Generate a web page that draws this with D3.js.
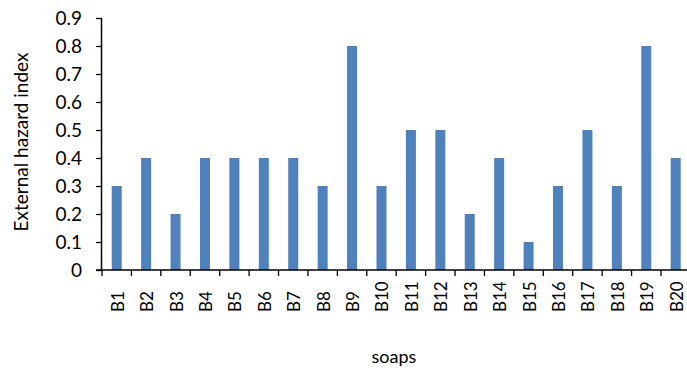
<!DOCTYPE html>
<html>
<head>
<meta charset="utf-8">
<script src="https://cdn.jsdelivr.net/npm/d3@7/dist/d3.min.js"></script>
<style>
  html, body { margin: 0; padding: 0; background: #fff; }
  svg { display: block; font-family: Lato, "Open Sans", sans-serif; }
</style>
</head>
<body>
<svg id="chart" width="687" height="370"></svg>
<script>
const categories = ["B1","B2","B3","B4","B5","B6","B7","B8","B9","B10",
                    "B11","B12","B13","B14","B15","B16","B17","B18","B19","B20"];
const hazardIndex = [0.3,0.4,0.2,0.4,0.4,0.4,0.4,0.3,0.8,0.3,
                     0.5,0.5,0.2,0.4,0.1,0.3,0.5,0.3,0.8,0.4];
const yTicks = [0,0.1,0.2,0.3,0.4,0.5,0.6,0.7,0.8,0.9];

const svg = d3.select("#chart");
// plot area runs slightly past the right edge of the canvas
const plotLeft = 102, plotRight = 690.4, plotTop = 18, plotBottom = 270;

const x = d3.scaleBand().domain(categories).range([plotLeft, plotRight]).paddingInner(0.66).paddingOuter(0.33);
const xb = d3.scaleBand().domain(categories).range([plotLeft, plotRight]);
const y = d3.scaleLinear().domain([0, 0.9]).range([plotBottom, plotTop]);

// bars
svg.append("g").selectAll("rect").data(categories).join("rect")
  .attr("x", d => x(d))
  .attr("width", x.bandwidth())
  .attr("y", (d, i) => y(hazardIndex[i]))
  .attr("height", (d, i) => y(0) - y(hazardIndex[i]))
  .attr("fill", "#4F81BD");

// y axis
const yAxis = svg.append("g").attr("transform", `translate(${plotLeft},0)`)
  .call(d3.axisLeft(y).tickValues(yTicks).tickSize(6).tickPadding(14)
    .tickFormat(d => d === 0 ? "0" : d3.format(".1f")(d)));
yAxis.select(".domain").attr("stroke", "#000").attr("stroke-width", 1.5).attr("d", `M-0.5,${plotTop}V${plotBottom}`);
yAxis.selectAll(".tick line").attr("stroke", "#000").attr("stroke-width", 1.3);
yAxis.selectAll(".tick text").attr("font-size", 19).attr("fill", "#000").attr("font-family", "Lato, sans-serif");

// x axis with ticks at category boundaries
const xg = svg.append("g");
xg.append("line").attr("x1", plotLeft - 6).attr("x2", plotRight).attr("y1", plotBottom).attr("y2", plotBottom)
  .attr("stroke", "#000").attr("stroke-width", 1.5);
const bounds = categories.map(c => xb(c)).concat([plotRight]);
xg.selectAll("line.tk").data(bounds).join("line").attr("class", "tk")
  .attr("x1", d => d).attr("x2", d => d).attr("y1", plotBottom).attr("y2", plotBottom + 6)
  .attr("stroke", "#000").attr("stroke-width", 1.3);
xg.selectAll("text").data(categories).join("text")
  .attr("transform", d => `translate(${xb(d) + xb.bandwidth() / 2 + 7},312) rotate(-90)`)
  .attr("text-anchor", "start")
  .attr("font-size", 17)
  .attr("font-family", "Lato, sans-serif")
  .attr("fill", "#000")
  .text(d => d);

// axis titles
svg.append("text")
  .attr("transform", `translate(28,142) rotate(-90)`)
  .attr("text-anchor", "middle").attr("font-size", 19).attr("font-family", "Lato, sans-serif")
  .attr("fill", "#000").text("External hazard index");
svg.append("text")
  .attr("x", 394).attr("y", 363)
  .attr("text-anchor", "middle").attr("font-size", 18).attr("font-family", "Lato, sans-serif")
  .attr("fill", "#000").text("soaps");
</script>
</body>
</html>
